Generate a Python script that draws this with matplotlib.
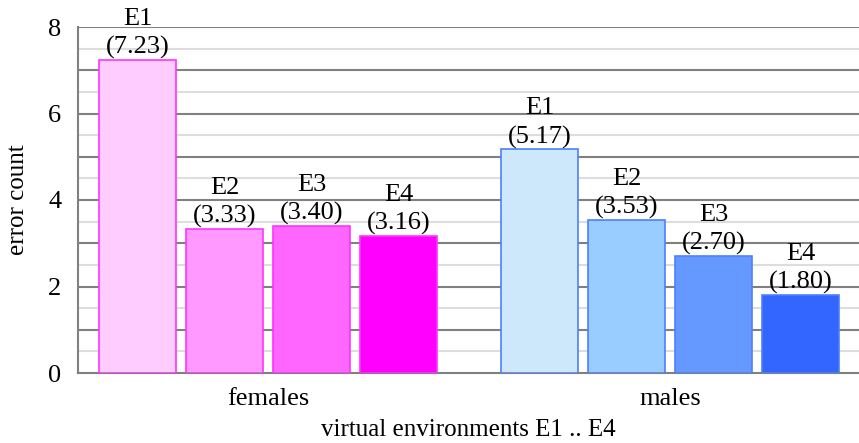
import matplotlib
matplotlib.use("Agg")
import matplotlib.pyplot as plt
import numpy as np

groups = ["females", "males"]
envs = ["E1", "E2", "E3", "E4"]
females = [7.23, 3.33, 3.40, 3.16]
males = [5.17, 3.53, 2.70, 1.80]
female_colors = ["#FFCCFF", "#FF99FF", "#FF66FF", "#FF00FF"]
male_colors = ["#CCE8FA", "#99CCFF", "#6699FF", "#3366FF"]
female_edge = "#FF33FF"
male_edge = "#4D7FFF"

plt.rcParams['font.family'] = ['Liberation Serif', 'DejaVu Serif']

fig = plt.figure(figsize=(8.59, 4.43), dpi=100)
ax = fig.add_axes([78/859, 1-373/443, (859-78)/859, (373-27)/443])

x = np.arange(len(groups))
width = 0.1915
step = 0.2164
series = [females, males]
fcols = [female_colors, male_colors]
ecols = [female_edge, male_edge]
for gi in range(len(groups)):
    for ei in range(len(envs)):
        xpos = x[gi] + (ei - 1.5) * step
        v = series[gi][ei]
        ax.bar(xpos, v, width, color=fcols[gi][ei], edgecolor=ecols[gi],
               linewidth=1.2, zorder=3)
        ax.text(xpos, v + 0.02, f"{envs[ei]}\n({v:.2f})", ha='center', va='bottom',
                fontsize=19, linespacing=1.35, zorder=4)

ax.set_xlim(-0.4726, 1.470)
ax.set_ylim(0, 8)
ax.set_yticks([0, 2, 4, 6, 8])
for yv in np.arange(1, 8.01, 1):
    ax.axhline(yv, color='#808080', linewidth=1.5, zorder=1)
for yv in np.arange(0.5, 8, 1):
    ax.axhline(yv, color='#DDDDDD', linewidth=1.5, zorder=1)
ax.set_xticks(x)
ax.set_xticklabels(groups, fontsize=19)
ax.tick_params(axis='y', labelsize=19, length=0, pad=12)
ax.tick_params(axis='x', length=0, pad=11)
for s in ['top', 'right']:
    ax.spines[s].set_visible(False)
ax.spines['left'].set_color('#808080')
ax.spines['left'].set_linewidth(1.5)
ax.spines['bottom'].set_color('#808080')
ax.spines['bottom'].set_linewidth(1.5)
ax.set_xlabel("virtual environments E1 .. E4", fontsize=18, labelpad=6)
ax.set_ylabel("error count", fontsize=18, labelpad=14)

fig.savefig("out.png", dpi=100)
